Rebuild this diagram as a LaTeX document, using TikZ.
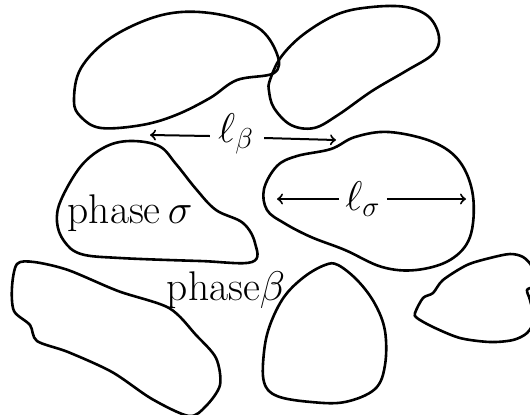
\documentclass[tikz,border=0pt]{standalone}
\usepackage{amsmath,amssymb}
\usepackage{tikz}
\usetikzlibrary{arrows,positioning,calc}

\tikzset{
  blob/.style={line width=1.3pt, line join=round},
  lenarrow/.style={line width=1pt, ->, >=to},
  handtext/.style={font=\huge, inner sep=1pt}
}

\begin{document}
\begin{tikzpicture}[x=0.5pt,y=-0.5pt]
            \useasboundingbox (0,0) rectangle (530,414);
            \clip (0,0) rectangle (530,414);

            % Top row grains
            \draw[blob] plot[smooth cycle, tension=0.6] coordinates
                {(74,101) (81,68) (112,37) (162,15) (210,13) (257,27) (277,54) (274,73)
                 (237,80) (210,98) (176,115) (142,125) (101,128) (81,117)};
            \draw[blob] plot[smooth cycle, tension=0.6] coordinates
                {(270,80) (281,57) (304,34) (338,14) (372,7) (406,7) (429,17) (439,37)
                 (433,54) (406,71) (372,91) (338,115) (314,128) (291,125) (274,108) (269,91)};

            % Middle row grains
            \draw[blob] plot[smooth cycle, tension=0.6] coordinates
                {(61,200) (81,166) (105,147) (130,141) (159,146) (176,164) (196,189) (216,210)
                 (243,223) (255,243) (252,262) (200,261) (120,258) (81,254) (64,241) (57,222)};
            \draw[blob] plot[smooth cycle, tension=0.6] coordinates
                {(264,189) (277,166) (297,156) (331,149) (355,137) (389,132) (433,142) (460,162)
                 (473,196) (470,237) (450,260) (416,270) (382,267) (345,250) (311,237) (284,223) (267,210)};

            % Bottom row grains
            \draw[blob] plot[smooth cycle, tension=0.5] coordinates
                {(17,264) (34,262) (68,270) (118,291) (169,308) (196,335) (216,358) (220,385)
                 (206,406) (189,416) (152,399) (112,372) (68,352) (37,341) (30,325) (14,311) (12,287)};
            \draw[blob] plot[smooth cycle, tension=0.6] coordinates
                {(338,265) (358,281) (375,304) (385,331) (385,365) (375,389) (345,402) (311,402)
                 (277,396) (264,382) (264,352) (270,325) (284,297) (304,277) (325,265)};
            \draw[blob] plot[smooth cycle, tension=0.5] coordinates
                {(415,313) (423,298) (433,293) (443,280) (467,265) (490,258) (510,254) (523,257)
                 (532,267) (534,285) (527,290) (530,300) (534,320) (527,333) (513,340) (490,342)
                 (460,338) (433,327) (417,318)};

            % Length scales
            \node[handtext] (lbeta) at (236,134) {$\ell_{\beta}$};
            \coordinate (lbetaL) at (150,135);
            \coordinate (lbetaR) at (336,140);
            \draw[lenarrow] (lbeta.west) ++(-6,2) -- (lbetaL);
            \draw[lenarrow] (lbeta.east) ++(8,4) -- (lbetaR);

            \node[handtext] (lsigma) at (363,199) {$\ell_{\sigma}$};
            \coordinate (lsigmaL) at (277,199);
            \coordinate (lsigmaR) at (466,199);
            \draw[lenarrow] (lsigma.west) ++(-4,0) -- (lsigmaL);
            \draw[lenarrow] (lsigma.east) ++(4,0) -- (lsigmaR);

            % Phase labels
            \node[handtext] (phsigma) at (130,213) {phase\,$\sigma$};
            \node[handtext] (phbeta) at (226,290) {phase$\beta$};
        \end{tikzpicture}
\end{document}
